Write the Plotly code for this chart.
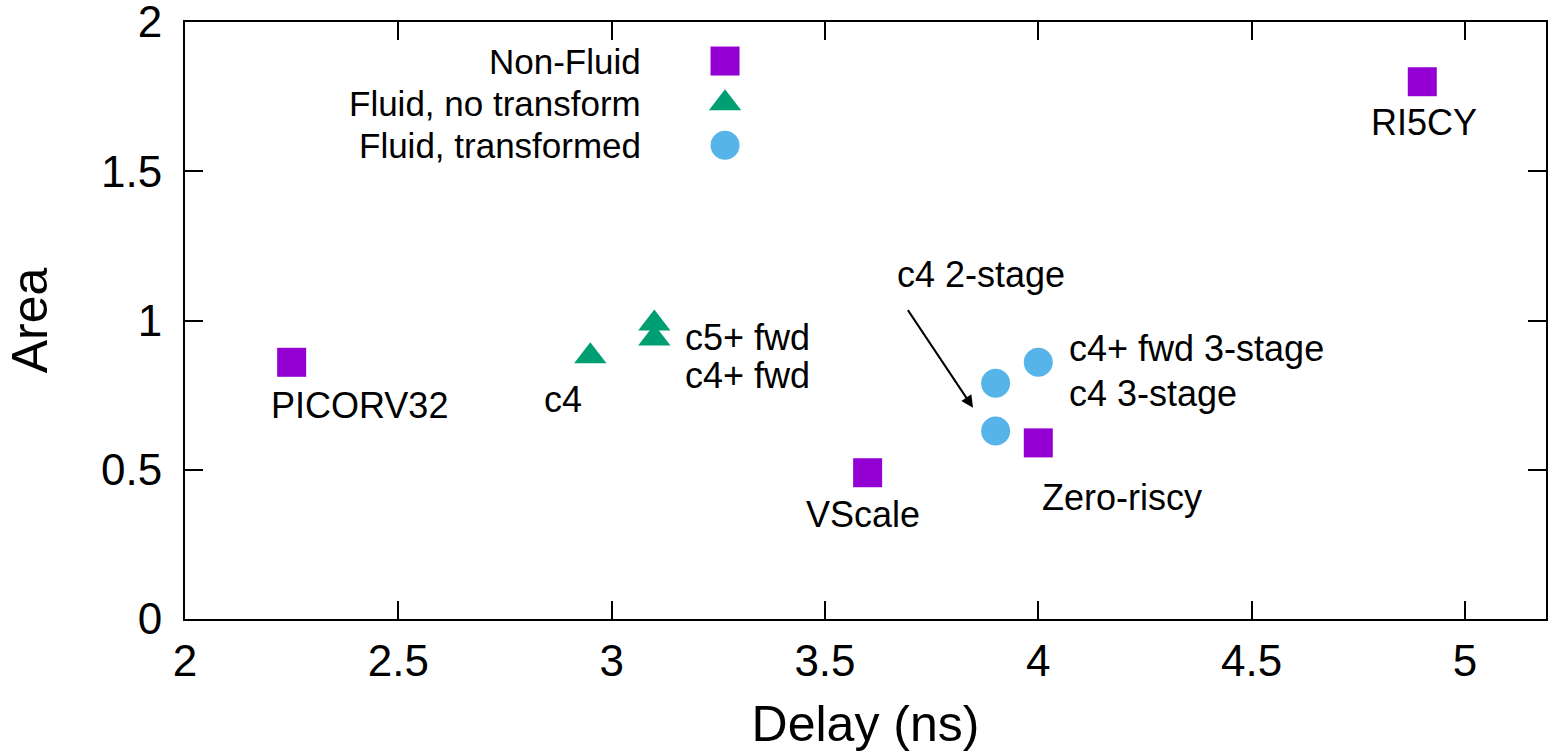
import plotly.graph_objects as go

# ---- data ----
nonfluid_x = [2.25, 3.60, 4.00, 4.90]
nonfluid_y = [0.86, 0.49, 0.59, 1.80]
nonfluid_names = ["PICORV32", "VScale", "Zero-riscy", "RI5CY"]

fluid_x = [2.95, 3.10, 3.10]
fluid_y = [0.88, 0.99, 0.94]
fluid_names = ["c4", "c5+ fwd", "c4+ fwd"]

trans_x = [3.90, 3.90, 4.00]
trans_y = [0.63, 0.79, 0.86]
trans_names = ["c4 2-stage", "c4 3-stage", "c4+ fwd 3-stage"]

series_names = ["Non-Fluid", "Fluid, no transform", "Fluid, transformed"]
x_ticks = [2, 2.5, 3, 3.5, 4, 4.5, 5]
y_ticks = [0, 0.5, 1, 1.5, 2]

# label positions (x, y, anchor)
labels = [
    ("PICORV32", 2.408, 0.715, "center"),
    ("c4", 2.886, 0.735, "center"),
    ("c5+ fwd", 3.167, 0.942, "left"),
    ("c4+ fwd", 3.167, 0.815, "left"),
    ("VScale", 3.59, 0.349, "center"),
    ("Zero-riscy", 4.004, 0.406, "left"),
    ("c4 2-stage", 3.664, 1.154, "left"),
    ("c4+ fwd 3-stage", 4.067, 0.905, "left"),
    ("c4 3-stage", 4.067, 0.756, "left"),
    ("RI5CY", 4.904, 1.664, "center"),
]

PURPLE = "#9400D3"
GREEN = "#009E73"
BLUE = "#56B4E9"
FONT = "Liberation Sans, Arial, sans-serif"

fig = go.Figure()
fig.add_trace(go.Scatter(x=nonfluid_x, y=nonfluid_y, mode="markers", name=series_names[0],
                         text=nonfluid_names,
                         marker=dict(symbol="square", size=29, color=PURPLE, opacity=1, line=dict(width=0))))
fig.add_trace(go.Scatter(x=fluid_x, y=fluid_y, mode="markers", name=series_names[1],
                         text=fluid_names,
                         marker=dict(symbol="triangle-up", size=28, color=GREEN, opacity=1, line=dict(width=0))))
fig.add_trace(go.Scatter(x=trans_x, y=trans_y, mode="markers", name=series_names[2],
                         text=trans_names,
                         marker=dict(symbol="circle", size=29, color=BLUE, opacity=1, line=dict(width=0))))

# custom legend (text left, symbol right) on an overlay axis in [0,1] units
leg_sym_x = 0.3968
leg_txt_x = 0.3365
leg_rows = [0.9346, 0.864, 0.7936]
leg_symbols = ["square", "triangle-up", "circle"]
leg_colors = [PURPLE, GREEN, BLUE]
leg_sizes = [29, 28, 29]
fig.add_trace(go.Scatter(x=[leg_sym_x] * 3, y=leg_rows, mode="markers", xaxis="x2", yaxis="y2",
                         showlegend=False, hoverinfo="skip",
                         marker=dict(symbol=leg_symbols, size=leg_sizes, color=leg_colors,
                                     opacity=1, line=dict(width=0))))

annotations = []
for name, yv in zip(series_names, leg_rows):
    annotations.append(dict(x=leg_txt_x, y=yv, xref="x2", yref="y2", text=name, showarrow=False,
                            xanchor="right", yanchor="middle",
                            font=dict(family=FONT, size=35, color="black")))
for txt, xv, yv, anc in labels:
    annotations.append(dict(x=xv, y=yv, xref="x", yref="y", text=txt, showarrow=False,
                            xanchor=anc, yanchor="middle",
                            font=dict(family=FONT, size=36, color="black")))
# arrow for c4 2-stage
annotations.append(dict(x=3.847, y=0.708, ax=3.692, ay=1.04, xref="x", yref="y",
                        axref="x", ayref="y", text="", showarrow=True,
                        arrowhead=2, arrowsize=1.2, arrowwidth=2, arrowcolor="black"))

axis_common = dict(showline=True, linecolor="black", linewidth=2, mirror="ticks",
                   ticks="inside", ticklen=18, tickwidth=2, tickcolor="black",
                   showgrid=False, zeroline=False, ticklabeloverflow="allow", automargin=False,
                   tickfont=dict(family=FONT, size=44, color="black"))

fig.update_layout(
    width=1556, height=756,
    margin=dict(l=185, r=10, t=22, b=137),
    paper_bgcolor="white", plot_bgcolor="white",
    showlegend=False,
    annotations=annotations,
    xaxis=dict(range=[2, 5.19], tickvals=x_ticks, ticktext=[str(t) for t in x_ticks],
               title=dict(text="Delay (ns)", font=dict(family=FONT, size=50, color="black"), standoff=22),
               ticklabelstandoff=2, **axis_common),
    yaxis=dict(range=[0, 2.0001], tickvals=y_ticks, ticktext=[str(t) for t in y_ticks],
               title=dict(text="Area", font=dict(family=FONT, size=50, color="black"), standoff=38),
               ticklabelstandoff=12, **axis_common),
    xaxis2=dict(overlaying="x", range=[0, 1], visible=False, fixedrange=True),
    yaxis2=dict(overlaying="y", range=[0, 1], visible=False, fixedrange=True),
)

fig.write_html("out.html")
